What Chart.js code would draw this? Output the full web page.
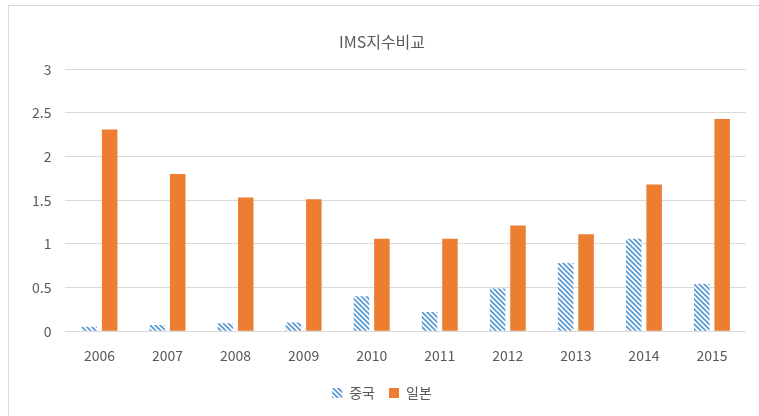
<!DOCTYPE html>
<html>
<head>
<meta charset="utf-8">
<script src="https://cdn.jsdelivr.net/npm/chart.js@4"></script>
<style>
    html, body { margin: 0; padding: 0; background: #fff; overflow: hidden; }
    #frame {
        position: absolute; left: 8px; top: 5px; width: 800px; height: 500px;
        border: 1px solid #d9d9d9; box-sizing: border-box;
    }
    #wrap { position: absolute; left: 0; top: 0; width: 759px; height: 416px; }
</style>
</head>
<body>
<div id="frame"></div>
<div id="wrap"><canvas id="chart" width="759" height="416"></canvas></div>
<script>
const years = ["2006", "2007", "2008", "2009", "2010", "2011", "2012", "2013", "2014", "2015"];
const china = [0.05, 0.07, 0.09, 0.10, 0.40, 0.22, 0.49, 0.78, 1.06, 0.54];
const japan = [2.31, 1.80, 1.53, 1.51, 1.06, 1.06, 1.21, 1.11, 1.68, 2.43];
const yTicks = [0, 0.5, 1, 1.5, 2, 2.5, 3];

// diagonal stripe fill for the China series
function makeStripes(color) {
    const c = document.createElement("canvas");
    c.width = 5;
    c.height = 5;
    const g = c.getContext("2d");
    g.fillStyle = "#ffffff";
    g.fillRect(0, 0, 5, 5);
    g.strokeStyle = color;
    g.lineWidth = 1.8;
    g.beginPath();
    g.moveTo(-3, -3); g.lineTo(8, 8);
    g.moveTo(-3, 2); g.lineTo(3, 8);
    g.moveTo(2, -3); g.lineTo(8, 3);
    g.stroke();
    return g.createPattern(c, "repeat");
}

const font = "'Noto Sans CJK KR', 'Noto Sans', sans-serif";
const ctx = document.getElementById("chart").getContext("2d");

new Chart(ctx, {
    type: "bar",
    data: {
        labels: years,
        datasets: [
            { label: "중국", data: china, backgroundColor: makeStripes("#5b9bd5") },
            { label: "일본", data: japan, backgroundColor: "#ed7d31" }
        ]
    },
    options: {
        responsive: false,
        animation: false,
        datasets: { bar: { categoryPercentage: 0.6, barPercentage: 0.76 } },
        layout: { padding: { top: 32, left: 18, right: 13, bottom: 6 } },
        plugins: {
            title: {
                display: true,
                text: "IMS지수비교",
                color: "#595959",
                font: { family: font, size: 16, weight: "normal" },
                padding: { top: 0, bottom: 18 }
            },
            legend: {
                position: "bottom",
                labels: {
                    color: "#595959",
                    font: { family: font, size: 14 },
                    boxWidth: 10,
                    boxHeight: 10,
                    padding: 14
                }
            },
            tooltip: { enabled: false }
        },
        scales: {
            x: {
                grid: { display: false },
                border: { display: false },
                ticks: { color: "#595959", font: { family: font, size: 14 }, padding: 8 }
            },
            y: {
                min: 0,
                max: 3,
                afterBuildTicks: (axis) => { axis.ticks = yTicks.map(v => ({ value: v })); },
                grid: { color: "#d9d9d9", drawTicks: false },
                border: { display: false },
                ticks: {
                    color: "#595959",
                    font: { family: font, size: 14 },
                    padding: 14,
                    callback: (v) => String(v)
                }
            }
        }
    }
});
</script>
</body>
</html>
